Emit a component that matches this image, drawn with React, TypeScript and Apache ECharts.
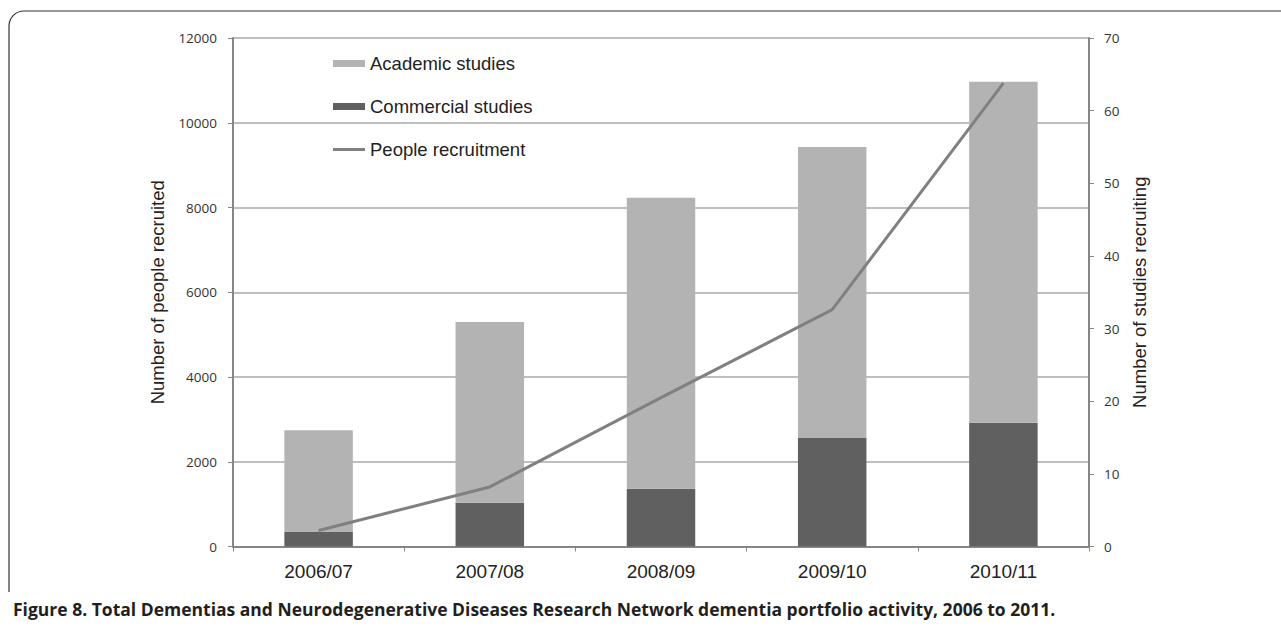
import React, { useEffect, useRef } from "react";
import * as echarts from "echarts";

const categories = ["2006/07", "2007/08", "2008/09", "2009/10", "2010/11"];
const commercialStudies = [340, 1030, 1360, 2560, 2920];
const academicTotals = [2745, 5300, 8230, 9430, 10970];
const academicStudies = academicTotals.map((t, i) => t - commercialStudies[i]);
const peopleRecruitment = [2.2, 8.2, 20.5, 32.6, 63.8];
const caption =
  "Figure 8. Total Dementias and Neurodegenerative Diseases Research Network dementia portfolio activity, 2006 to 2011.";

export default function App() {
  const ref = useRef<HTMLDivElement>(null);
  useEffect(() => {
    if (!ref.current) return;
    const chart = echarts.init(ref.current, null, { renderer: "svg" });
    const axisColor = "#868686";
    chart.setOption({
      animation: false,
      backgroundColor: "#ffffff",
      grid: { left: 233, right: 192, top: 38, bottom: 81.5, containLabel: false },
      legend: {
        orient: "vertical",
        left: 328,
        top: 49,
        itemWidth: 32,
        itemHeight: 7,
        itemGap: 24,
        selectedMode: false,
        textStyle: { fontFamily: "Liberation Sans", fontSize: 18.5, color: "#222" },
        data: [
          { name: "Academic studies", icon: "rect" },
          { name: "Commercial studies", icon: "rect" },
          {
            name: "People recruitment",
            icon: "path://M0,0L0.01,0L0,0.01Z M0,7L0.01,7L0,6.99Z M0,2L32,2L32,5L0,5Z",
          },
        ],
      },
      xAxis: {
        type: "category",
        data: categories,
        axisLine: { lineStyle: { color: axisColor, width: 2 } },
        axisTick: { show: true, alignWithLabel: false, length: 5, lineStyle: { color: axisColor } },
        axisLabel: { fontFamily: "Liberation Sans", fontSize: 19, color: "#222", margin: 15 },
      },
      yAxis: [
        {
          type: "value",
          min: 0,
          max: 12000,
          interval: 2000,
          name: "Number of people recruited",
          nameLocation: "middle",
          nameGap: 66,
          nameTextStyle: { fontFamily: "Liberation Sans", fontSize: 18.5, color: "#222" },
          axisLine: { show: true, lineStyle: { color: axisColor, width: 2 } },
          axisTick: { show: true, length: 5, lineStyle: { color: axisColor } },
          axisLabel: {
            fontFamily: "Open Sans",
            fontSize: 13.5,
            color: "#333",
            margin: 16,
            formatter: (v: number) => String(v),
          },
          splitLine: { show: true, lineStyle: { color: "#a8a8a8", width: 1.5 } },
        },
        {
          type: "value",
          min: 0,
          max: 70,
          interval: 10,
          position: "right",
          name: "Number of studies recruiting",
          nameLocation: "middle",
          nameGap: 37,
          nameRotate: 90,
          nameTextStyle: { fontFamily: "Liberation Sans", fontSize: 18.5, color: "#222" },
          axisLine: { show: true, lineStyle: { color: axisColor, width: 2 } },
          axisTick: { show: true, length: 5, lineStyle: { color: axisColor } },
          axisLabel: {
            fontFamily: "Open Sans",
            fontSize: 13.5,
            color: "#333",
            margin: 15,
            formatter: (v: number) => String(v),
          },
          splitLine: { show: false },
        },
      ],
      series: [
        {
          name: "Commercial studies",
          type: "bar",
          stack: "s",
          barWidth: "40%",
          data: commercialStudies,
          itemStyle: { color: "#606060" },
        },
        {
          name: "Academic studies",
          type: "bar",
          stack: "s",
          barWidth: "40%",
          data: academicStudies,
          itemStyle: { color: "#b3b3b3" },
        },
        {
          name: "People recruitment",
          type: "line",
          yAxisIndex: 1,
          data: peopleRecruitment,
          symbol: "none",
          lineStyle: { color: "#808080", width: 3 },
          itemStyle: { color: "#808080" },
        },
      ],
      graphic: [
        { type: "line", shape: { x1: 24, y1: 11, x2: 1281, y2: 11 }, style: { stroke: "#333", lineWidth: 1.2 } },
        { type: "line", shape: { x1: 9, y1: 26, x2: 9, y2: 592 }, style: { stroke: "#333", lineWidth: 1.2 } },
        {
          type: "arc",
          shape: { cx: 24, cy: 26, r: 15, startAngle: Math.PI, endAngle: Math.PI * 1.5, clockwise: true },
          style: { stroke: "#333", lineWidth: 1.2, fill: "none" },
        },
        {
          type: "text",
          left: 13,
          top: 600,
          style: {
            text: caption,
            fontFamily: "Open Sans",
            fontWeight: "bold",
            fontSize: 17.5,
            fill: "#231f20",
          },
        },
      ],
    });
    return () => chart.dispose();
  }, []);
  return <div ref={ref} style={{ width: 1281, height: 628, position: "absolute", left: 0, top: 0 }} />;
}
